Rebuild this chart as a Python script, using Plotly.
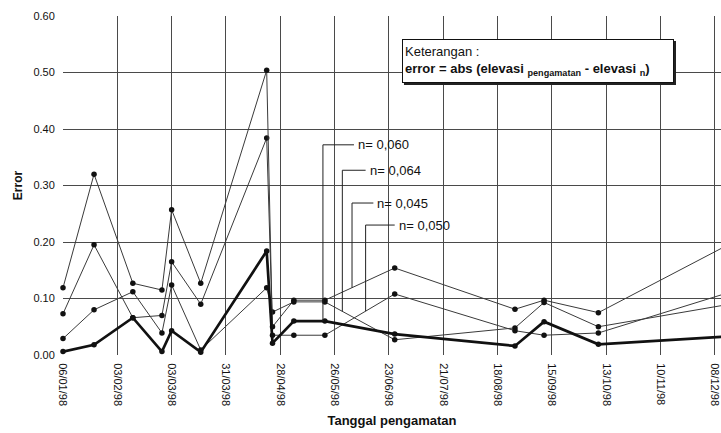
import numpy as np
import pandas as pd
import plotly.graph_objects as go

# Observation dates (1998) and absolute elevation error for each Manning n
tanggal = ["1998-01-06", "1998-01-22", "1998-02-11", "1998-02-26", "1998-03-03",
           "1998-03-18", "1998-04-21", "1998-04-24", "1998-05-05", "1998-05-21",
           "1998-06-26", "1998-08-27", "1998-09-11", "1998-10-09", "1998-12-26"]

error_n060 = [0.006, 0.018, 0.066, 0.006, 0.043, 0.005, 0.184, 0.021, 0.060, 0.060,
              0.037, 0.016, 0.059, 0.019, 0.035]
error_n045 = [0.073, 0.195, 0.066, 0.070, 0.165, 0.090, 0.384, 0.050, 0.097, 0.097,
              0.154, 0.081, 0.097, 0.075, 0.215]
error_n064 = [0.029, 0.080, 0.112, 0.039, 0.124, 0.009, 0.119, 0.076, 0.094, 0.094,
              0.027, 0.048, 0.093, 0.050, 0.096]
error_n050 = [0.119, 0.320, 0.127, 0.115, 0.257, 0.127, 0.504, 0.035, 0.035, 0.035,
              0.108, 0.043, 0.035, 0.039, 0.122]

y_ticks = [0.0, 0.1, 0.2, 0.3, 0.4, 0.5, 0.6]

FONT = "Arial, Liberation Sans, sans-serif"
dates = pd.to_datetime(tanggal)

fig = go.Figure()

thin = [("n= 0,045", error_n045), ("n= 0,064", error_n064), ("n= 0,050", error_n050)]
for name, vals in thin:
    fig.add_trace(go.Scatter(
        x=dates, y=vals, mode="lines+markers", name=name,
        line=dict(color="#3a3a3a", width=1),
        marker=dict(color="#111111", size=5.5),
        cliponaxis=False, showlegend=False))

fig.add_trace(go.Scatter(
    x=dates, y=error_n060, mode="lines+markers", name="n= 0,060",
    line=dict(color="#111111", width=2.7),
    marker=dict(color="#111111", size=5.5),
    cliponaxis=False, showlegend=False))

# Leader lines from each label down to its curve
t_num = dates.astype("int64").to_numpy()


def value_at(series, day):
    d = pd.Timestamp(day).value
    return float(np.interp(d, t_num, np.asarray(series, dtype=float)))


leaders = [
    # label, series, vertical date, elbow date, label date, label height
    ("n= 0,060", error_n060, "1998-05-20", "1998-06-05", "1998-06-06", 0.372),
    ("n= 0,064", error_n064, "1998-05-30", "1998-06-11", "1998-06-12", 0.327),
    ("n= 0,045", error_n045, "1998-06-04", "1998-06-15", "1998-06-16", 0.269),
    ("n= 0,050", error_n050, "1998-06-11", "1998-06-26", "1998-06-27", 0.230),
]
shapes = []
annotations = []
for label, series, xv, xe, xl, yl in leaders:
    yb = value_at(series, xv)
    shapes.append(dict(type="line", xref="x", yref="y", x0=xv, x1=xv, y0=yb, y1=yl,
                       line=dict(color="#222222", width=1)))
    shapes.append(dict(type="line", xref="x", yref="y", x0=xv, x1=xe, y0=yl, y1=yl,
                       line=dict(color="#222222", width=1)))
    annotations.append(dict(x=xl, y=yl, xref="x", yref="y", text=label,
                            showarrow=False, xanchor="left", yanchor="middle",
                            font=dict(family=FONT, size=13, color="#111111")))

# Note box with a small drop shadow
shapes.append(dict(type="rect", xref="paper", yref="paper",
                   x0=0.5182, x1=0.9316, y0=0.7965, y1=0.926,
                   fillcolor="#222222", line=dict(width=0), layer="above"))
annotations.append(dict(
    x=0.5152, y=0.9322, xref="paper", yref="paper", xanchor="left", yanchor="top",
    align="left", showarrow=False, width=266, height=38,
    text="Keterangan :<br><b>error = abs (elevasi <sub>pengamatan</sub> - elevasi <sub>n</sub>)</b>",
    font=dict(family=FONT, size=13, color="#111111"),
    bgcolor="white", bordercolor="#111111", borderwidth=1, borderpad=2))

fig.update_layout(
    width=721, height=433,
    margin=dict(l=63, r=0, t=16, b=78),
    paper_bgcolor="white", plot_bgcolor="white",
    font=dict(family=FONT, size=11, color="#111111"),
    shapes=shapes, annotations=annotations,
)

fig.update_xaxes(
    type="date",
    range=["1998-01-06", "1998-12-11 05:00"],
    tick0="1998-01-06", dtick=28 * 86400000,
    tickformat="%d/%m/%y", tickangle=90,
    tickfont=dict(family=FONT, size=11, color="#111111"),
    ticklabeloverflow="allow",
    ticks="outside", ticklen=5, tickcolor="white",
    showgrid=True, gridcolor="#4a4a4a", gridwidth=1,
    zeroline=False, showline=False,
    title=dict(text="<b>Tanggal pengamatan</b>", standoff=10,
               font=dict(family=FONT, size=13, color="#111111")),
)

fig.update_yaxes(
    range=[0, 0.6], tickvals=y_ticks, tickformat=".2f",
    tickfont=dict(family=FONT, size=11, color="#111111"),
    ticks="outside", ticklen=5, tickcolor="white",
    showgrid=True, gridcolor="#4a4a4a", gridwidth=1,
    zeroline=False, showline=False,
    title=dict(text="<b>Error</b>", standoff=8,
               font=dict(family=FONT, size=12, color="#111111")),
)

fig.write_html("out.html")
